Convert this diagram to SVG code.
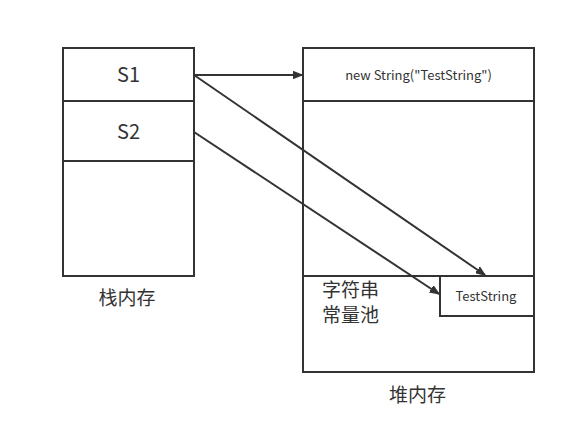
<svg xmlns="http://www.w3.org/2000/svg" width="565" height="445" viewBox="0 0 565 445">
<style>
.box{fill:#fff;stroke:#333;stroke-width:2}
.ln{stroke:#333;stroke-width:2;fill:none}
.t{font-family:"Noto Sans CJK SC","DejaVu Sans",sans-serif;fill:#333}
.conn{stroke:#333;stroke-width:2;fill:none;marker-end:url(#ah)}
</style>
<defs>
<marker id="ah" markerWidth="10" markerHeight="8" refX="9" refY="4" orient="auto" markerUnits="userSpaceOnUse">
<path d="M0,0 L10,4 L0,8 L2,4 Z" fill="#333" transform="scale(1.6) translate(-3.4 -1.5)"/>
</marker>
</defs>
<rect width="565" height="445" fill="#fff"/>
<g id="stack">
<rect class="box" x="63" y="48" width="131" height="228"/>
<line class="ln" x1="63" y1="101" x2="194" y2="101"/>
<line class="ln" x1="63" y1="161" x2="194" y2="161"/>
<text class="t" x="128.5" y="82" font-size="20" text-anchor="middle">S1</text>
<text class="t" x="128.5" y="139" font-size="20" text-anchor="middle">S2</text>
<text class="t" x="127" y="305" font-size="19" text-anchor="middle">栈内存</text>
</g>
<g id="heap">
<rect class="box" x="303" y="48" width="231" height="324"/>
<line class="ln" x1="303" y1="101" x2="534" y2="101"/>
<line class="ln" x1="303" y1="276" x2="534" y2="276"/>
<text class="t" x="418.5" y="80" font-size="13" text-anchor="middle">new String("TestString")</text>
<text class="t" x="322" y="297" font-size="19">字符串</text>
<text class="t" x="322" y="322" font-size="19">常量池</text>
<text class="t" x="417.5" y="402" font-size="19" text-anchor="middle">堆内存</text>
</g>
<g id="pool">
<rect class="box" x="440" y="276" width="94" height="40"/>
<text class="t" x="486" y="301" font-size="13" text-anchor="middle">TestString</text>
</g>
<g id="connectors">
<line class="conn" x1="194" y1="75" x2="302" y2="75"/>
<line class="conn" x1="194" y1="75" x2="485" y2="275"/>
<line class="conn" x1="194" y1="132" x2="439" y2="294"/>
</g>
</svg>
